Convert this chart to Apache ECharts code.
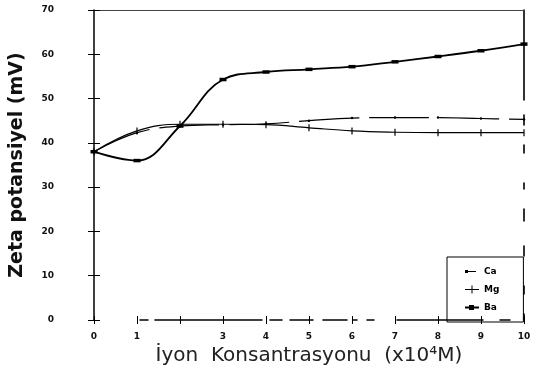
<!DOCTYPE html>
<html>
<head>
<meta charset="utf-8">
<script src="https://cdn.jsdelivr.net/npm/echarts@6/dist/echarts.min.js"></script>
<style>
  html, body { margin: 0; padding: 0; background: #fff; }
  #chart { width: 535px; height: 383px; }
</style>
</head>
<body>
<div id="chart"></div>
<script>
// concentration (x10^4 M)
const concentrations = [0, 1, 2, 3, 4, 5, 6, 7, 8, 9, 10];
const xTickLabels = ['0', '1', '', '3', '4', '5', '6', '7', '8', '9', '10'];
const yTickLabels = ['0', '10', '20', '30', '40', '50', '60', '70'];

// zeta potential (mV)
const caValues = [38, 42.3, 43.8, 44.1, 44.3, 45.0, 45.6, 45.7, 45.7, 45.5, 45.3];
const mgValues = [38, 42.7, 44.2, 44.2, 44.1, 43.4, 42.7, 42.4, 42.3, 42.3, 42.3];
const baValues = [38, 36.0, 43.8, 54.3, 56.0, 56.6, 57.2, 58.3, 59.5, 60.8, 62.3];

const pairs = (vals) => concentrations.map((x, i) => [x, vals[i]]);

const chart = echarts.init(document.getElementById('chart'), null, { renderer: 'canvas' });

const tickFont = { fontFamily: 'DejaVu Sans', fontWeight: 'bold', fontSize: 9, color: '#111' };
const hidden = { axisLine: { show: false }, axisTick: { show: false }, axisLabel: { show: false }, splitLine: { show: false } };

// legend glyphs, drawn in a 14x8 box
const legendIcons = {
  Ca: 'path://M0,0L0.01,0L0.01,0.01ZM14,8L13.99,8L13.99,7.99ZM0,2.5L3,2.5L3,5.5L0,5.5ZM3,3.5L11,3.5L11,4.5L3,4.5Z',
  Mg: 'path://M0,3.5L14,3.5L14,4.5L0,4.5ZM6.5,0L7.5,0L7.5,8L6.5,8Z',
  Ba: 'path://M0,0L0.01,0L0.01,0.01ZM14,8L13.99,8L13.99,7.99ZM0,3L14,3L14,5L0,5ZM4,1.5L9,1.5L9,6.5L4,6.5Z',
};

chart.setOption({
  animation: false,
  backgroundColor: '#fff',
  grid: { left: 94, right: 11, top: 10, bottom: 63, containLabel: false },
  legend: {
    orient: 'vertical',
    left: 447,
    top: 257,
    padding: [10, 24, 10, 18],
    itemGap: 9,
    itemWidth: 14,
    itemHeight: 8,
    borderColor: '#000',
    borderWidth: 1,
    textStyle: { fontFamily: 'DejaVu Sans', fontWeight: 'bold', fontSize: 9, color: '#000' },
    data: ['Ca', 'Mg', 'Ba'].map((n) => ({ name: n, icon: legendIcons[n] })),
  },
  xAxis: [
    {
      type: 'value',
      min: 0,
      max: 10,
      interval: 1,
      name: 'İyon  Konsantrasyonu  (x10⁴M)',
      nameLocation: 'middle',
      nameGap: 24,
      nameTextStyle: { fontFamily: 'DejaVu Sans', fontSize: 20, color: '#222' },
      axisLine: {
        show: true,
        onZero: false,
        lineStyle: {
          color: '#000',
          width: 1.5,
          // broken baseline as in the scan: nothing between 0 and 1
          type: [0, 46, 8, 7, 107, 8, 12, 8, 23, 10, 24, 6, 4, 10, 7, 23, 86, 17, 10, 200],
        },
      },
      axisTick: { show: true, length: 4, lineStyle: { color: '#000' } },
      axisLabel: { ...tickFont, margin: 12, formatter: (v) => xTickLabels[concentrations.indexOf(v)] },
      splitLine: { show: false },
    },
    {
      type: 'value',
      min: 0,
      max: 10,
      interval: 1,
      position: 'bottom',
      ...hidden,
      axisTick: { show: true, inside: true, length: 4, lineStyle: { color: '#000' } },
    },
    {
      type: 'value',
      min: 0,
      max: 10,
      position: 'top',
      ...hidden,
      axisLine: { show: true, onZero: false, lineStyle: { color: '#444', width: 1 } },
    },
  ],
  yAxis: [
    {
      type: 'value',
      min: 0,
      max: 70,
      interval: 10,
      name: 'Zeta potansiyel (mV)',
      nameLocation: 'middle',
      nameGap: 67,
      nameTextStyle: { fontFamily: 'DejaVu Sans', fontWeight: 'bold', fontSize: 19, color: '#111' },
      axisLine: { show: true, onZero: false, lineStyle: { color: '#000', width: 1.5 } },
      axisTick: { show: true, length: 6, lineStyle: { color: '#000' } },
      axisLabel: { ...tickFont, margin: 40, formatter: (v) => yTickLabels[v / 10] },
      splitLine: { show: false },
    },
    {
      type: 'value',
      min: 0,
      max: 70,
      interval: 10,
      position: 'left',
      ...hidden,
      axisTick: { show: true, inside: true, length: 6, lineStyle: { color: '#000' } },
    },
    {
      type: 'value',
      min: 0,
      max: 70,
      position: 'right',
      ...hidden,
      axisLine: {
        show: true,
        onZero: false,
        lineStyle: { color: '#000', width: 1.6, type: [6, 20, 8, 30, 10, 25, 12, 20, 6, 30, 8, 20, 10, 15, 120] },
      },
    },
  ],
  series: [
    {
      name: 'Ca',
      type: 'line',
      smooth: 0.4,
      data: pairs(caValues),
      symbol: 'circle',
      symbolSize: 2.5,
      itemStyle: { color: '#000' },
      lineStyle: { color: '#000', width: 1.2, type: [60, 10] },
    },
    {
      name: 'Mg',
      type: 'line',
      smooth: 0.4,
      data: pairs(mgValues),
      symbol: 'rect',
      symbolSize: [1.2, 7],
      itemStyle: { color: '#000' },
      lineStyle: { color: '#000', width: 1.2 },
    },
    {
      name: 'Ba',
      type: 'line',
      smooth: 0.4,
      data: pairs(baValues),
      symbol: 'rect',
      symbolSize: [7, 3.5],
      itemStyle: { color: '#000' },
      lineStyle: { color: '#000', width: 1.8 },
    },
  ],
});
</script>
</body>
</html>
